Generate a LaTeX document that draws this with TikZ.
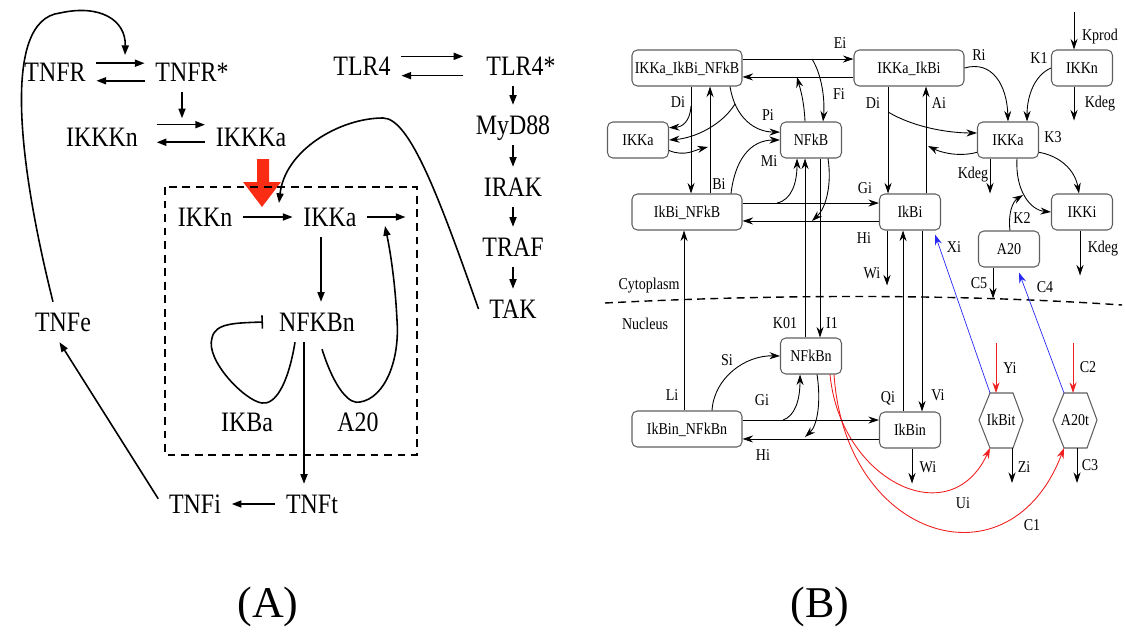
\documentclass[tikz,border=0pt]{standalone}
\usepackage{fontspec}
\setmainfont{Liberation Serif}
\newfontfamily\narrowserif[FakeStretch=0.85]{Liberation Serif}
\usetikzlibrary{arrows.meta, calc}
\definecolor{fatred}{RGB}{250, 45, 20}
\definecolor{mrnared}{RGB}{240, 30, 30}
\definecolor{transblue}{RGB}{40, 40, 245}
\definecolor{boxgray}{RGB}{95, 95, 95}

\begin{document}
\begin{tikzpicture}[x=0.02cm, y=-0.02cm,
  spec/.style={font={\narrowserif\fontsize{16}{18}\selectfont}, inner xsep=6pt, inner ysep=6pt, text height=10.6pt, text depth=0pt},
  arA/.style={-{Triangle[length=5.5pt,width=4pt]}, line width=0.9pt},
  box/.style={draw=boxgray, line width=0.6pt, rounded corners=3pt, font={\narrowserif\fontsize{9.4}{11}\selectfont}, minimum width=1.22cm, minimum height=0.72cm, inner sep=1pt, text height=6.2pt, text depth=0pt},
  wide/.style={minimum width=2.2cm},
  hextxt/.style={font={\narrowserif\fontsize{9.4}{11}\selectfont}, inner sep=0pt, text height=6.2pt, text depth=0pt},
  hexline/.style={draw=boxgray, line width=0.6pt},
  lbl/.style={font={\narrowserif\fontsize{9.4}{11}\selectfont}, inner sep=0pt, text height=6.2pt, text depth=0pt},
  arB/.style={-{Stealth[length=6pt,width=4pt,inset=2pt]}, line width=0.5pt},
  arR/.style={arB, draw=mrnared},
  arBl/.style={arB, draw=transblue, line width=0.4pt}]
  \useasboundingbox (0,0) rectangle (1125,642);

  % (A) receptor part
  \node[spec] (tnfr) at (55,72) {TNFR};
  \node[spec] (tnfrs) at (192,72) {TNFR*};
  \node[spec] (ikkkn) at (102,137) {IKKKn};
  \node[spec] (ikkka) at (251,137) {IKKKa};
  \node[spec] (tlr) at (362,66) {TLR4};
  \node[spec] (tlrs) at (521,66) {TLR4*};
  \node[spec] (myd) at (513,125) {MyD88};
  \node[spec] (irak) at (513,187) {IRAK};
  \node[spec] (traf) at (513,247) {TRAF};
  \node[spec] (tak) at (513,309) {TAK};

  % (A) core module
  \node[spec] (ikkn) at (205,217) {IKKn};
  \node[spec] (ikka) at (330,217) {IKKa};
  \node[spec] (nfkbn) at (317,322) {NFKBn};
  \node[spec] (ikba) at (247,422) {IKBa};
  \node[spec] (atwenty) at (358,422) {A20};
  \node[spec] (tnft) at (312,504) {TNFt};
  \node[spec] (tnfi) at (195,504) {TNFi};
  \node[spec] (tnfe) at (63,322) {TNFe};

  \coordinate (tnfin) at (125,55);
  \coordinate (takin) at (279,203);
  \coordinate (atwin) at (385,226);

  \draw[arA] ([yshift=5pt]tnfr.east) -- ([yshift=5pt]tnfrs.west);
  \draw[arA] ([yshift=-5pt]tnfrs.west) -- ([yshift=-5pt]tnfr.east);
  \draw[arA] ($(tnfrs.south)+(-10,0)$) -- ++(0,26);
  \draw[arA, shorten <=4.5pt] ([yshift=7pt]ikkkn.east) -- ([yshift=7pt]ikkka.west);
  \draw[arA, shorten >=4.5pt] ([yshift=-3pt]ikkka.west) -- ([yshift=-3pt]ikkkn.east);
  \draw[arA, shorten >=7pt] ([yshift=5.5pt]tlr.east) -- ([yshift=5.5pt]tlrs.west);
  \draw[arA, shorten <=7pt] ([yshift=-5.5pt]tlrs.west) -- ([yshift=-5.5pt]tlr.east);
  \draw[arA] ($(tlrs.south)+(-8,0)$) -- (myd.north);
  \draw[arA] (myd.south) -- (irak.north);
  \draw[arA] (irak.south) -- (traf.north);
  \draw[arA] (traf.south) -- (tak.north);

  \draw[arA] (ikkn.east) -- (ikka.west);
  \draw[arA] (ikka.east) -- ++(38,0);
  \draw[arA] ($(ikka.south)+(-9,0)$) -- ($(nfkbn.north)+(4,0)$);
  \draw[arA] ($(nfkbn.south)+(-13,0)$) -- ($(tnft.north)+(-8,0)$);
  \draw[arA] (tnft.west) -- (tnfi.east);
  \draw[arA] ([yshift=3pt]tnfi.west) -- ([xshift=-2pt]tnfe.south);

  % loops
  \draw[arA] ($(tnfe.north)+(-10,0)$) .. controls (20,170) and (0,20) .. (60,13)
    .. controls (100,4) and (126,20) .. (tnfin);
  \draw[arA] (tak.west) .. controls (440,200) and (410,118) .. (383,118)
    .. controls (340,118) and (285,150) .. (takin);
  \draw[-{Bar[width=7.5pt]}, line width=0.9pt] ($(nfkbn.south)+(-22,0)$)
    .. controls (288,385) and (275,405) .. (262,403)
    .. controls (245,401) and (205,360) .. (212,338)
    .. controls (215,323) and (235,323) .. ([xshift=-3pt]nfkbn.west);
  \draw[arA] ($(nfkbn.south)+(5,7)$) .. controls (335,390) and (350,405) .. (360,402)
    .. controls (385,398) and (400,360) .. (397,320)
    .. controls (395,280) and (390,250) .. (atwin);

  % IKK activation signal
  \fill[fatred] (257,159) -- (269,159) -- (269,182) -- (281,182) -- (262,207)
    -- (243,182) -- (257,182) -- cycle;
  \draw[line width=1.2pt, dash pattern=on 4.5pt off 3.2pt] (165,187) rectangle (417,455);

  % (B) boxes
  \node[box, wide] (ikkaikbinfkb) at (687,68) {IKKa\_IkBi\_NFkB};
  \node[box, wide] (ikkaikbi) at (909,68) {IKKa\_IkBi};
  \node[box] (ikkn2) at (1082,68) {IKKn};
  \node[box] (ikkal) at (638,140) {IKKa};
  \node[box] (nfkb) at (811,140) {NFkB};
  \node[box] (ikkar) at (1008,140) {IKKa};
  \node[box, wide] (ikbinfkb) at (687,212) {IkBi\_NFkB};
  \node[box] (ikbi) at (910,212) {IkBi};
  \node[box] (ikki) at (1082,212) {IKKi};
  \node[box] (atw) at (1009,249) {A20};
  \node[box] (bnfkbn) at (811,356) {NFkBn};
  \node[box, wide] (ikbinnfkbn) at (687,429) {IkBin\_NFkBn};
  \node[box] (ikbin) at (910,430) {IkBin};

  % transcripts
  \node[hextxt] (ikbit) at (1001,420) {IkBit};
  \draw[hexline] ($(ikbit)+(-22,0)$) -- ++(11,-27) coordinate (ikbit-tl) -- ++(23,0) coordinate (ikbit-tr)
    -- ++(10,27) -- ++(-10,28) coordinate (ikbit-br) -- ++(-23,0) coordinate (ikbit-bl) -- cycle;
  \node[hextxt] (atwt) at (1075,420) {A20t};
  \draw[hexline] ($(atwt)+(-22,0)$) -- ++(11,-27) coordinate (atwt-tl) -- ++(23,0) coordinate (atwt-tr)
    -- ++(10,27) -- ++(-10,28) coordinate (atwt-br) -- ++(-23,0) coordinate (atwt-bl) -- cycle;

  % cytoplasm / nucleus
  \draw[line width=0.8pt, dash pattern=on 4.5pt off 3pt] (605,303) .. controls (780,294) and (960,294) .. (1122,305);
  \node[lbl] (lcyto) at (649,284) {Cytoplasm};
  \node[lbl] (lnuc) at (645,324) {Nucleus};

  % complex reactions
  \draw[arB] ([yshift=5.1pt]ikkaikbinfkb.east) -- ([yshift=5.1pt]ikkaikbi.west);
  \draw[arB] ([yshift=-5.1pt]ikkaikbi.west) -- ([yshift=-5.1pt]ikkaikbinfkb.east);
  \coordinate (fisrc) at (812,59);
  \draw[arB] (fisrc) .. controls (822,75) and (825,100) .. ($(nfkb.north)+(12,0)$);
  \coordinate (ejoin) at (797,77);
  \draw[arB] ($(nfkb.north)+(-6,0)$) .. controls (804,100) and (800,88) .. (ejoin);

  \draw[arB] ($(ikkaikbinfkb.south)+(4,0)$) -- ($(ikbinfkb.north)+(4,0)$);
  \coordinate (disrc) at (691,106);
  \draw[arB] (disrc) .. controls (690,122) and (682,127) .. ([yshift=7pt]ikkal.east);
  \draw[arB] ($(ikbinfkb.north)+(23,0)$) -- ($(ikkaikbinfkb.south)+(23,0)$);
  \coordinate (bijoin) at (708,147);
  \draw[arB] ([yshift=-6pt]ikkal.east) .. controls (685,157) and (695,150) .. (bijoin);
  \draw[arB] ($(ikkaikbinfkb.south)+(43,0)$) .. controls (735,118) and (755,132) .. ([yshift=4.5pt]nfkb.west);
  \coordinate (pisrc) at (735,104);
  \draw[arB] (pisrc) .. controls (722,125) and (695,138) .. (ikkal.east);
  \draw[arB] ($(ikbinfkb.north)+(44,0)$) .. controls (735,160) and (750,140) .. (nfkb.west);

  \draw[arB] ([yshift=5.1pt]ikbinfkb.east) -- ([yshift=5.1pt]ikbi.west);
  \coordinate (gisrc) at (777,203);
  \draw[arB] (gisrc) .. controls (792,200) and (797,182) .. ($(nfkb.south)+(-14,0)$);
  \draw[arB] ([yshift=-5.1pt]ikbi.west) -- ([yshift=-5.1pt]ikbinfkb.east);
  \coordinate (hijoin) at (812,221);
  \draw[arB] ($(nfkb.south)+(17,0)$) .. controls (832,185) and (826,208) .. (hijoin);
  \draw[arB] ($(bnfkbn.north)+(-6,0)$) -- ($(nfkb.south)+(-6,0)$);
  \draw[arB] ($(nfkb.south)+(9,0)$) -- ($(bnfkbn.north)+(9,0)$);

  \draw[arB] ($(ikkaikbi.south)+(-21,0)$) -- ($(ikbi.north)+(-22,0)$);
  \coordinate (di2src) at (888,112);
  \draw[arB] (di2src) .. controls (915,128) and (950,133) .. ([yshift=4pt]ikkar.west);
  \draw[arB] ($(ikbi.north)+(16,0)$) -- ($(ikkaikbi.south)+(17,0)$);
  \coordinate (aijoin) at (928,146);
  \draw[arB] ([yshift=-7pt]ikkar.west) .. controls (960,157) and (942,153) .. (aijoin);
  \draw[arB] (ikkaikbi.east) .. controls (992,60) and (1007,85) .. (ikkar.north);

  % IKK cycle
  \coordinate (kprod) at (1074,12);
  \draw[arB] (kprod) -- ($(ikkn2.north)+(-8,0)$);
  \draw[arB] ($(ikkn2.south)+(-8,0)$) -- ++(0,34);
  \draw[arB] (ikkn2.west) .. controls (1035,75) and (1027,95) .. ($(ikkar.north)+(19,0)$);
  \draw[arB] ([yshift=-7pt]ikkar.east) .. controls (1060,156) and (1075,170) .. ($(ikki.north)+(-3,0)$);
  \draw[arB] ($(ikkar.south)+(-18,0)$) -- ++(0,35);
  \draw[arB] ($(ikkar.south)+(9,0)$) .. controls (1015,190) and (1030,210) .. (ikki.west);
  \coordinate (k2join) at (1023,195);
  \draw[arB] ($(atw.north)+(1,0)$) .. controls (1008,215) and (1012,202) .. (k2join);
  \draw[arB] ($(ikki.south)+(-2,0)$) -- ++(0,45);
  \draw[arB] ($(atw.south)+(-16,0)$) -- ++(0,31);

  % IkBi transport
  \draw[arB] ($(ikbi.south)+(-23,0)$) -- ++(0,55);
  \draw[arB] ($(ikbin.north)+(-7,0)$) -- ($(ikbi.south)+(-7,0)$);
  \draw[arB] ($(ikbi.south)+(12,0)$) -- ($(ikbin.north)+(12,0)$);
  \draw[arB] ($(ikbin.south)+(2,0)$) -- ++(0,35);

  % transcription / translation
  \coordinate (yisrc) at (996,343);
  \draw[arR] (yisrc) -- ++(0,50);
  \coordinate (c2src) at (1073,343);
  \draw[arR] (c2src) -- ++(0,50);
  \draw[arBl] (ikbit-tl) -- ($(ikbi.south east)+(-6,4)$);
  \draw[arBl] (atwt-tl) -- ($(atw.south)+(10,5)$);
  \draw[arB] ($(ikbit-br)+(-1,0)$) -- ++(0,35);
  \draw[arB] ($(atwt-bl)+(13,0)$) -- ++(0,35);
  \draw[arR] ($(bnfkbn.south east)+(-12,0)$) .. controls (840,480) and (950,535) .. (ikbit-bl);
  \draw[arR] ($(bnfkbn.south east)+(-8,0)$) .. controls (845,540) and (1010,590) .. (atwt-bl);

  % nucleus reactions
  \draw[arB] ($(ikbinnfkbn.north)+(25,0)$) .. controls (714,378) and (745,355) .. (bnfkbn.west);
  \draw[arB] ($(ikbinnfkbn.north)+(-3,0)$) -- ($(ikbinfkb.south)+(-3,0)$);
  \draw[arB] ([yshift=5.1pt]ikbinnfkbn.east) -- ([yshift=5.1pt]ikbinnfkbn.east -| ikbin.west);
  \coordinate (gi2src) at (783,420);
  \draw[arB] (gi2src) .. controls (795,416) and (800,400) .. ($(bnfkbn.south)+(-11,0)$);
  \draw[arB] ([yshift=-5.1pt]ikbin.west) -- ([yshift=-5.1pt]ikbin.west -| ikbinnfkbn.east);
  \coordinate (hi2join) at (805,437);
  \draw[arB] ($(bnfkbn.south)+(6,0)$) .. controls (821,400) and (818,425) .. (hi2join);

  % rate labels
  \node[lbl] (lei) at (840,43) {Ei};
  \node[lbl] (lfi) at (839,94) {Fi};
  \node[lbl] (ldi) at (678,102) {Di};
  \node[lbl] (lpi) at (768,115) {Pi};
  \node[lbl] (lmi) at (769,161) {Mi};
  \node[lbl] (lbi) at (719,184) {Bi};
  \node[lbl] (lgi) at (865,188) {Gi};
  \node[lbl] (lhi) at (864,238) {Hi};
  \node[lbl] (ldi2) at (873,103) {Di};
  \node[lbl] (lai) at (939,103) {Ai};
  \node[lbl] (lri) at (979,55) {Ri};
  \node[lbl] (lkone) at (1039,58) {K1};
  \node[lbl] (lkprod) at (1100,35) {Kprod};
  \node[lbl] (lkdegn) at (1100,102) {Kdeg};
  \node[lbl] (lkthree) at (1053,137) {K3};
  \node[lbl] (lkdega) at (973,173) {Kdeg};
  \node[lbl] (lktwo) at (1022,218) {K2};
  \node[lbl] (lkdegi) at (1103,247) {Kdeg};
  \node[lbl] (lxi) at (954,247) {Xi};
  \node[lbl] (lcfive) at (979,283) {C5};
  \node[lbl] (lcfour) at (1045,287) {C4};
  \node[lbl] (lwi) at (872,273) {Wi};
  \node[lbl] (lqi) at (888,397) {Qi};
  \node[lbl] (lvi) at (938,395) {Vi};
  \node[lbl] (lyi) at (1010,368) {Yi};
  \node[lbl] (lctwo) at (1088,367) {C2};
  \node[lbl] (lzi) at (1024,467) {Zi};
  \node[lbl] (lcthree) at (1090,465) {C3};
  \node[lbl] (lwi2) at (928,467) {Wi};
  \node[lbl] (lui) at (963,503) {Ui};
  \node[lbl] (lcone) at (1032,525) {C1};
  \node[lbl] (lsi) at (727,360) {Si};
  \node[lbl] (lli) at (672,395) {Li};
  \node[lbl] (lgi2) at (762,400) {Gi};
  \node[lbl] (lhi2) at (763,455) {Hi};
  \node[lbl] (lkzero) at (785,323) {K01};
  \node[lbl] (lione) at (832,323) {I1};

  % panel captions
  \node[font=\fontsize{25}{30}\selectfont] (capa) at (268,607) {(A)};
  \node[font=\fontsize{25}{30}\selectfont] (capb) at (820,607) {(B)};
\end{tikzpicture}
\end{document}
